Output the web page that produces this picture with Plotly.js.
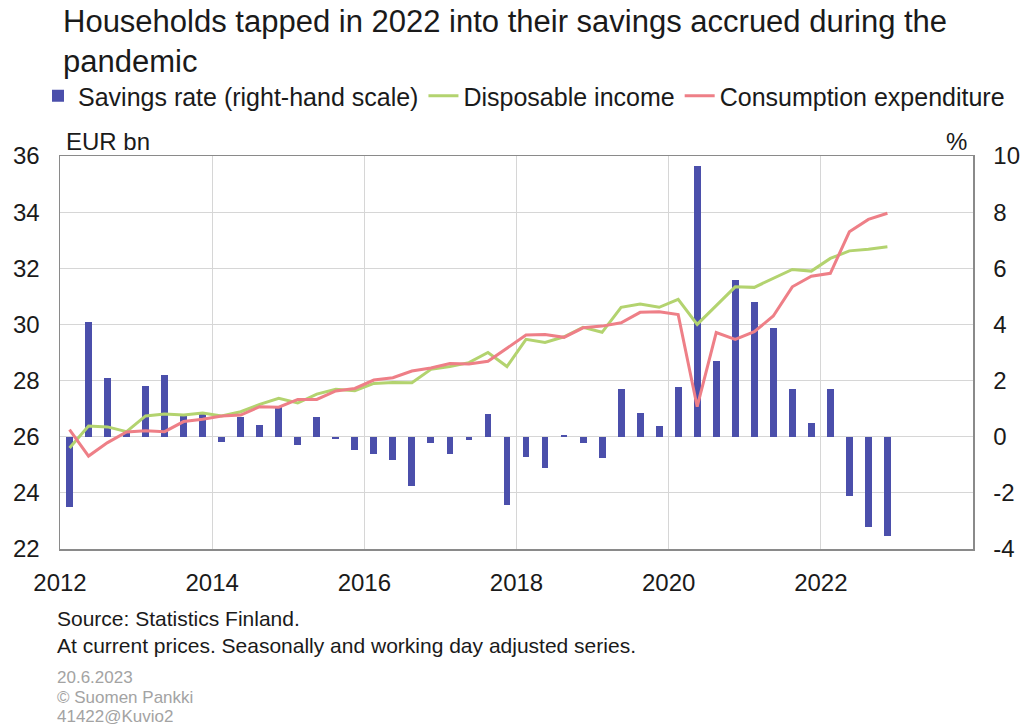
<!DOCTYPE html>
<html>
<head>
<meta charset="utf-8">
<script src="https://cdn.plot.ly/plotly-3.0.1.min.js"></script>
<style>
  html, body { margin: 0; padding: 0; background: #ffffff; }
  #chart { width: 1026px; height: 727px; }
</style>
</head>
<body>
<div id="chart"></div>
<script>
// Quarters 2012Q1 .. 2022Q4
const quarters = [
  '2012Q1','2012Q2','2012Q3','2012Q4','2013Q1','2013Q2','2013Q3','2013Q4',
  '2014Q1','2014Q2','2014Q3','2014Q4','2015Q1','2015Q2','2015Q3','2015Q4',
  '2016Q1','2016Q2','2016Q3','2016Q4','2017Q1','2017Q2','2017Q3','2017Q4',
  '2018Q1','2018Q2','2018Q3','2018Q4','2019Q1','2019Q2','2019Q3','2019Q4',
  '2020Q1','2020Q2','2020Q3','2020Q4','2021Q1','2021Q2','2021Q3','2021Q4',
  '2022Q1','2022Q2','2022Q3','2022Q4'
];

// Savings rate, % (right-hand scale)
const savingsRate = [
  -2.5, 4.1, 2.1, 0.2, 1.8, 2.2, 0.8, 0.8,
  -0.2, 0.7, 0.4, 1.1, -0.3, 0.7, -0.08, -0.47,
  -0.6, -0.83, -1.75, -0.24, -0.62, -0.12, 0.8, -2.43,
  -0.71, -1.13, 0.05, -0.21, -0.75, 1.71, 0.86, 0.39,
  1.78, 9.65, 2.71, 5.6, 4.81, 3.86, 1.69, 0.5,
  1.71, -2.11, -3.2, -3.54
];

// Disposable income, EUR bn
const disposableIncome = [
  25.6, 26.38, 26.35, 26.18, 26.74, 26.81, 26.77, 26.84,
  26.74, 26.89, 27.15, 27.37, 27.2, 27.52, 27.69, 27.64,
  27.9, 27.93, 27.92, 28.4, 28.5, 28.64, 29.0, 28.5,
  29.47, 29.36, 29.56, 29.9, 29.72, 30.61, 30.73, 30.61,
  30.89, 30.0, 30.67, 31.34, 31.32, 31.64, 31.96, 31.9,
  32.35, 32.62, 32.68, 32.77
];

// Consumption expenditure, EUR bn
const consumption = [
  26.25, 25.31, 25.79, 26.17, 26.21, 26.18, 26.54, 26.62,
  26.74, 26.77, 27.07, 27.05, 27.33, 27.33, 27.63, 27.72,
  28.02, 28.1, 28.34, 28.45, 28.61, 28.59, 28.69, 29.15,
  29.62, 29.64, 29.54, 29.88, 29.94, 30.06, 30.43, 30.45,
  30.35, 27.07, 29.71, 29.47, 29.74, 30.3, 31.34, 31.72,
  31.82, 33.3, 33.74, 33.96
];

const yearTicks = [2012, 2014, 2016, 2018, 2020, 2022];
const yearLabels = ['2012', '2014', '2016', '2018', '2020', '2022'];
const pctTicks = [-4, -2, 0, 2, 4, 6, 8, 10];
const pctLabels = ['-4', '-2', '0', '2', '4', '6', '8', '10'];
const eurTicks = [22, 24, 26, 28, 30, 32, 34, 36];
const eurLabels = ['22', '24', '26', '28', '30', '32', '34', '36'];

const seriesNames = ['Savings rate (right-hand scale)', 'Disposable income', 'Consumption expenditure'];

// Map quarter labels to mid-quarter positions on a numeric year axis
const xPos = quarters.map(q => {
  const yr = parseInt(q.slice(0, 4), 10);
  const qq = parseInt(q.slice(5), 10);
  return yr + (qq - 0.5) / 4;
});

const FONT = 'Liberation Sans, Arial, sans-serif';
const TXT = '#1a1a1a';

const traces = [
  {
    type: 'bar', name: seriesNames[0], x: xPos, y: savingsRate,
    width: 0.09, marker: { color: '#4b4fab', line: { width: 0 } },
    xaxis: 'x', yaxis: 'y', hoverinfo: 'x+y'
  },
  {
    type: 'scatter', mode: 'lines', name: seriesNames[1], x: xPos, y: disposableIncome,
    line: { color: '#b3d36f', width: 3 }, xaxis: 'x', yaxis: 'y2'
  },
  {
    type: 'scatter', mode: 'lines', name: seriesNames[2], x: xPos, y: consumption,
    line: { color: '#ee7f87', width: 3 }, xaxis: 'x', yaxis: 'y2'
  }
];

const PLOT_L = 60, PLOT_R = 973, PLOT_T = 156, PLOT_B = 549;
const PH = PLOT_B - PLOT_T, PW = PLOT_R - PLOT_L;
const py = px => (PLOT_B - px) / PH;
const pxX = px => (px - PLOT_L) / PW;

const layout = {
  width: 1026, height: 727,
  margin: { l: PLOT_L, r: 1026 - PLOT_R, t: PLOT_T, b: 727 - PLOT_B, pad: 0 },
  paper_bgcolor: '#ffffff', plot_bgcolor: '#ffffff',
  font: { family: FONT, color: TXT, size: 24 },
  title: {
    text: 'Households tapped in 2022 into their savings accrued during the<br>pandemic',
    font: { family: FONT, size: 31, color: TXT },
    x: 63 / 1026, xanchor: 'left', xref: 'container',
    y: 1 - 32 / 727, yanchor: 'middle', yref: 'container'
  },
  showlegend: true,
  legend: {
    orientation: 'h', x: pxX(38), xanchor: 'left', y: py(73), yanchor: 'top',
    font: { family: FONT, size: 25, color: TXT },
    bgcolor: 'rgba(0,0,0,0)', itemclick: false, traceorder: 'normal'
  },
  bargap: 0,
  xaxis: {
    range: [2012, 2024], tickmode: 'array', tickvals: yearTicks, ticktext: yearLabels,
    showgrid: true, gridcolor: '#d6d6d6', gridwidth: 1,
    showline: true, linecolor: '#8a8a8a', linewidth: 1.5, mirror: true,
    ticks: '', ticklabelstandoff: 12,
    tickfont: { family: FONT, size: 24, color: TXT }, zeroline: false, fixedrange: true
  },
  yaxis: {
    range: [-4, 10], tickmode: 'array', tickvals: pctTicks, ticktext: pctLabels, side: 'right',
    showgrid: true, gridcolor: '#d6d6d6', gridwidth: 1,
    showline: true, linecolor: '#8a8a8a', linewidth: 1.5, mirror: true,
    ticks: '', ticklabelstandoff: 14, zeroline: false,
    tickfont: { family: FONT, size: 24, color: TXT }, fixedrange: true
  },
  yaxis2: {
    range: [22, 36], tickmode: 'array', tickvals: eurTicks, ticktext: eurLabels, side: 'left', overlaying: 'y',
    showgrid: false, showline: true, linecolor: '#8a8a8a', linewidth: 1.5,
    ticks: '', ticklabelstandoff: 14, zeroline: false,
    tickfont: { family: FONT, size: 24, color: TXT }, fixedrange: true
  },
  annotations: [
    { text: 'EUR bn', xref: 'paper', yref: 'paper', x: pxX(64), y: py(141),
      xanchor: 'left', yanchor: 'middle', showarrow: false,
      font: { family: FONT, size: 24, color: TXT } },
    { text: '%', xref: 'paper', yref: 'paper', x: pxX(969), y: py(141),
      xanchor: 'right', yanchor: 'middle', showarrow: false,
      font: { family: FONT, size: 24, color: TXT } },
    { text: 'Source: Statistics Finland.', xref: 'paper', yref: 'paper', x: pxX(55), y: py(618),
      xanchor: 'left', yanchor: 'middle', showarrow: false,
      font: { family: FONT, size: 21, color: TXT } },
    { text: 'At current prices. Seasonally and working day adjusted series.', xref: 'paper', yref: 'paper',
      x: pxX(55), y: py(645), xanchor: 'left', yanchor: 'middle', showarrow: false,
      font: { family: FONT, size: 21, color: TXT } },
    { text: '20.6.2023', xref: 'paper', yref: 'paper', x: pxX(55), y: py(677),
      xanchor: 'left', yanchor: 'middle', showarrow: false,
      font: { family: FONT, size: 17, color: '#a3a3a3' } },
    { text: '© Suomen Pankki', xref: 'paper', yref: 'paper', x: pxX(55), y: py(697),
      xanchor: 'left', yanchor: 'middle', showarrow: false,
      font: { family: FONT, size: 17, color: '#a3a3a3' } },
    { text: '41422@Kuvio2', xref: 'paper', yref: 'paper', x: pxX(55), y: py(716),
      xanchor: 'left', yanchor: 'middle', showarrow: false,
      font: { family: FONT, size: 17, color: '#a3a3a3' } }
  ]
};

Plotly.newPlot('chart', traces, layout, { displayModeBar: false, staticPlot: true });
</script>
</body>
</html>
